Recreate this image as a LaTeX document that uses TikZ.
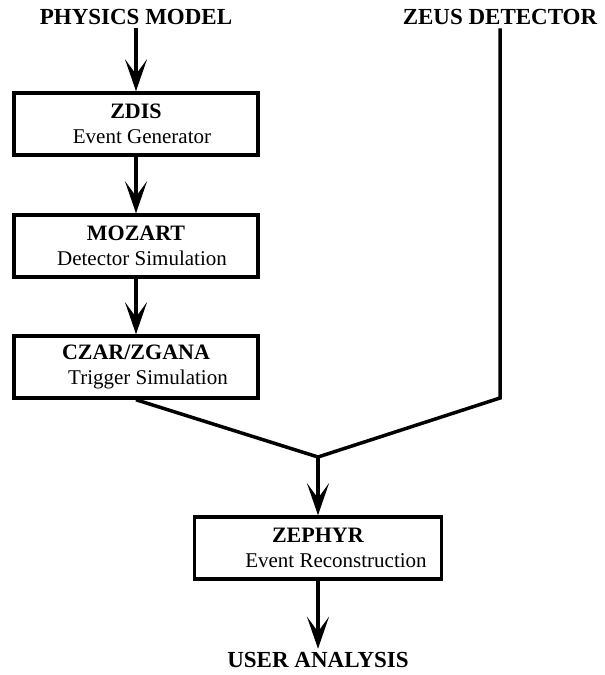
\documentclass[tikz,border=0pt]{standalone}
\usepackage{fontspec}
\setmainfont{Liberation Serif}
\usepackage{tikz}
\usetikzlibrary{arrows.meta,positioning}
\tikzset{
  ar/.style={-{Stealth[length=32pt,width=22pt,inset=15pt]},line width=3.5pt},
  ln/.style={line width=3.5pt},
  box/.style={draw,line width=3.5pt,minimum width=244pt,minimum height=62pt,align=center,inner sep=2pt,font=\fontsize{21}{25}\selectfont},
  ttl/.style={font=\bfseries\fontsize{23}{26}\selectfont}
}
\newcommand{\boxname}[1]{\textbf{\fontsize{22}{24}\selectfont #1}}
\begin{document}
\begin{tikzpicture}[x=1pt,y=-1pt]
\useasboundingbox (0,0) rectangle (605,675);
\node[ttl] (phys) at (136,17) {PHYSICS MODEL};
\node[ttl] (zeus) at (500,17) {ZEUS DETECTOR};
\node[box] (zdis) at (136,124) {\boxname{ZDIS}\\\hspace*{12pt}Event Generator};
\node[box] (mozart) at (136,246) {\boxname{MOZART}\\\hspace*{12pt}Detector Simulation};
\node[box] (czar) at (136,367) {\boxname{CZAR/ZGANA}\\\hspace*{24pt}Trigger Simulation};
\node[box,minimum width=247pt] (zephyr) at (318,548) {\boxname{ZEPHYR}\\\hspace*{36pt}Event Reconstruction};
\node[ttl] (user) at (318,660) {USER ANALYSIS};
\coordinate (merge) at (318,457);
\coordinate (bend) at (500,398);
% chain of generators
\draw[ar] (phys) -- (zdis);
\draw[ar] (zdis) -- (mozart);
\draw[ar] (mozart) -- (czar);
% joining the real data
\draw[ln] (czar.south) -- (merge);
\draw[ln] (zeus) -- (bend) -- (merge);
\draw[ar] (merge) -- (zephyr);
\draw[ar] (zephyr) -- (user);
\end{tikzpicture}
\end{document}
